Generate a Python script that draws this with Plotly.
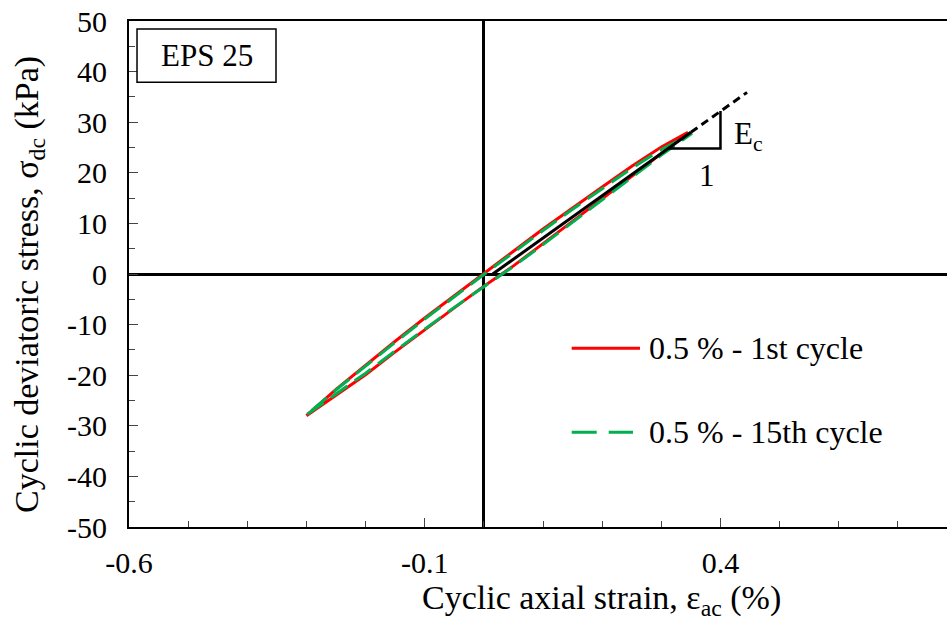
import plotly.graph_objects as go

# Cyclic triaxial hysteresis loops, EPS 25 geofoam (strain in %, stress in kPa)
# 1st cycle: loading branch (lower) then unloading branch (upper)
c1_load_x = [-0.300, -0.25, -0.20, -0.15, -0.10, -0.05, 0.00, 0.05, 0.10, 0.15, 0.20, 0.25, 0.30, 0.345]
c1_load_y = [-28.0, -24.0, -19.9, -15.4, -11.0, -6.7, -2.4, 1.6, 6.0, 10.4, 14.8, 19.3, 23.8, 28.0]
c1_unload_x = [0.345, 0.30, 0.25, 0.20, 0.15, 0.10, 0.05, 0.00, -0.05, -0.10, -0.15, -0.20, -0.25, -0.300]
c1_unload_y = [28.0, 25.1, 21.3, 17.2, 13.1, 8.9, 4.5, 0.1, -4.3, -8.7, -13.3, -18.0, -22.8, -28.0]

# 15th cycle
c15_load_x = [-0.2987, -0.25, -0.20, -0.15, -0.10, -0.05, 0.00, 0.05, 0.10, 0.15, 0.20, 0.25, 0.30, 0.352]
c15_load_y = [-27.7, -23.7, -19.6, -15.2, -10.9, -6.6, -2.5, 1.5, 5.8, 10.2, 14.6, 19.0, 23.5, 27.8]
c15_unload_x = [0.352, 0.30, 0.25, 0.20, 0.15, 0.10, 0.05, 0.00, -0.05, -0.10, -0.15, -0.20, -0.25, -0.2987]
c15_unload_y = [27.8, 24.6, 20.9, 16.9, 12.8, 8.6, 4.3, -0.1, -4.5, -8.9, -13.5, -18.2, -22.9, -27.7]

# Secant modulus line E_c and its extension
secant_x = [0.015, 0.35]
secant_y = [0.0, 28.0]
secant_ext_x = [0.35, 0.445]
secant_ext_y = [28.0, 35.9]

# Slope triangle (run = 1, rise = E_c)
tri_x = [0.3117, 0.40, 0.40]
tri_y = [24.8, 24.8, 32.2]

x_ticks = [-0.6, -0.1, 0.4]
y_ticks = [-50, -40, -30, -20, -10, 0, 10, 20, 30, 40, 50]

series_names = ["0.5 % - 1st cycle", "0.5 % - 15th cycle"]
RED = "#FF0000"
GREEN = "#00B050"
FONT = "'Liberation Serif', 'Times New Roman', Times, serif"
FS_TICK = 30
FS_TEXT = 32
FS_TITLE = 34

fig = go.Figure()

fig.add_trace(go.Scatter(
    x=c1_load_x + c1_unload_x[1:], y=c1_load_y + c1_unload_y[1:],
    mode="lines", line=dict(color=RED, width=3), name=series_names[0],
    showlegend=False))
fig.add_trace(go.Scatter(
    x=c15_load_x + c15_unload_x[1:], y=c15_load_y + c15_unload_y[1:],
    mode="lines", line=dict(color=GREEN, width=3, dash="20px,9px"),
    name=series_names[1], showlegend=False))
fig.add_trace(go.Scatter(
    x=secant_x, y=secant_y, mode="lines",
    line=dict(color="black", width=3), showlegend=False))
fig.add_trace(go.Scatter(
    x=secant_ext_x, y=secant_ext_y, mode="lines",
    line=dict(color="black", width=3, dash="8px,5px"), showlegend=False))
fig.add_trace(go.Scatter(
    x=tri_x, y=tri_y, mode="lines",
    line=dict(color="black", width=2.5), showlegend=False))

fig.add_annotation(x=0.419, y=27.2, xref="x", yref="y", text="E<sub>c</sub>",
                   showarrow=False, xanchor="left", yanchor="middle",
                   font=dict(family=FONT, size=31, color="black"))
fig.add_annotation(x=0.377, y=19.5, xref="x", yref="y", text="1",
                   showarrow=False, xanchor="center", yanchor="middle",
                   font=dict(family=FONT, size=31, color="black"))

# Specimen label box
fig.add_shape(type="rect", xref="paper", yref="paper",
              x0=0.0098, x1=0.1797, y0=0.879, y1=0.984,
              line=dict(color="black", width=1.5), fillcolor="white")
fig.add_annotation(x=0.0948, y=0.9315, xref="paper", yref="paper", text="EPS 25",
                   showarrow=False, xanchor="center", yanchor="middle",
                   font=dict(family=FONT, size=31, color="black"))

# Legend
fig.add_shape(type="line", xref="paper", yref="paper",
              x0=0.5412, x1=0.6247, y0=0.3532, y1=0.3532,
              line=dict(color=RED, width=3))
fig.add_annotation(x=0.6333, y=0.3532, xref="paper", yref="paper", text=series_names[0],
                   showarrow=False, xanchor="left", yanchor="middle",
                   font=dict(family=FONT, size=FS_TEXT, color="black"))
fig.add_shape(type="line", xref="paper", yref="paper",
              x0=0.5412, x1=0.6161, y0=0.1872, y1=0.1872,
              line=dict(color=GREEN, width=3, dash="25px,12px"))
fig.add_annotation(x=0.6333, y=0.1872, xref="paper", yref="paper", text=series_names[1],
                   showarrow=False, xanchor="left", yanchor="middle",
                   font=dict(family=FONT, size=FS_TEXT, color="black"))

axis_common = dict(
    showgrid=False, showline=True, linecolor="black", linewidth=2,
    zeroline=True, zerolinecolor="black", zerolinewidth=2.5,
    ticks="inside", tickcolor="#444", tickwidth=1, ticklen=9,
    tickfont=dict(family=FONT, size=FS_TICK, color="black"),
)

fig.update_xaxes(
    **axis_common, range=[-0.6, 0.783], tickvals=x_ticks,
    ticktext=[f"{v:g}" for v in x_ticks], mirror=True,
    minor=dict(ticks="inside", dtick=0.1, tick0=-0.6, ticklen=6,
               tickcolor="#444", tickwidth=1),
    ticklabelstandoff=8,
)
fig.update_yaxes(
    **axis_common, range=[-50, 50], tickvals=y_ticks,
    ticktext=[str(v) for v in y_ticks],
    minor=dict(ticks="inside", dtick=5, tick0=-50, ticklen=6,
               tickcolor="#444", tickwidth=1),
    ticklabelstandoff=14,
)

# Axis titles
fig.add_annotation(x=(601 - 129) / 818, y=(527 - 600) / 506, xref="paper", yref="paper",
                   text="Cyclic axial strain, ε<sub>ac</sub> (%)",
                   showarrow=False, xanchor="center", yanchor="middle",
                   font=dict(family=FONT, size=FS_TITLE, color="black"))
fig.add_annotation(x=(29 - 129) / 818, y=(527 - 285) / 506, xref="paper", yref="paper",
                   text="Cyclic deviatoric stress, σ<sub>dc</sub> (kPa)",
                   showarrow=False, xanchor="center", yanchor="middle", textangle=-90,
                   font=dict(family=FONT, size=FS_TITLE, color="black"))

fig.update_layout(
    width=947, height=626,
    margin=dict(l=129, r=0, t=21, b=99),
    paper_bgcolor="white", plot_bgcolor="white",
    showlegend=False,
)

fig.write_html("out.html")
